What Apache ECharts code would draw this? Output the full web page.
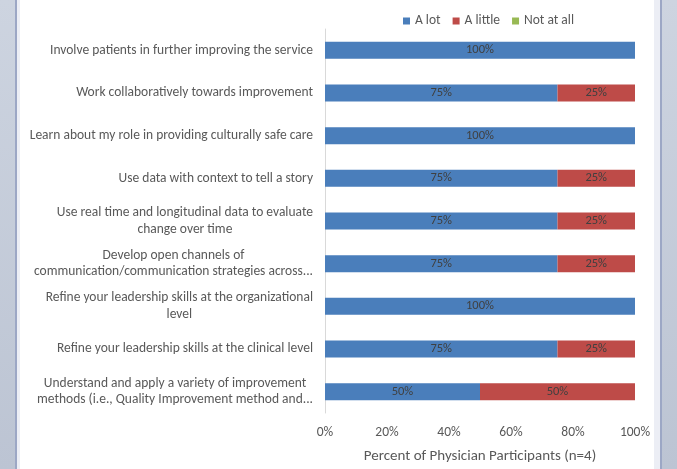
<!DOCTYPE html>
<html>
<head>
<meta charset="utf-8">
<script src="https://cdn.jsdelivr.net/npm/echarts@6/dist/echarts.min.js"></script>
<style>
  html, body { margin: 0; padding: 0; }
  body { width: 677px; height: 469px; position: relative; overflow: hidden; background: #fff; }
  .band { position: absolute; top: 0; height: 469px; }
  #chart { position: absolute; left: 0; top: 0; width: 677px; height: 469px; }
</style>
</head>
<body>
<!-- window frame around the chart -->
<div class="band" style="left:0;width:15px;background:linear-gradient(#cdd4e0,#bcc4d3);"></div>
<div class="band" style="left:15px;width:2px;background:#9ca7c5;"></div>
<div class="band" style="left:17px;width:3px;background:#eceef5;"></div>
<div class="band" style="left:654px;width:6px;background:#eceef5;"></div>
<div class="band" style="left:660px;width:2px;background:#9ca7c5;"></div>
<div class="band" style="left:662px;width:15px;background:linear-gradient(#cdd4e0,#bcc4d3);"></div>
<div id="chart"></div>
<script>
const categories = [
  'Involve patients in further improving the service',
  'Work collaboratively towards improvement',
  'Learn about my role in providing culturally safe care',
  'Use data with context to tell a story',
  'Use real time and longitudinal data to evaluate\nchange over time',
  'Develop open channels of\ncommunication/communication strategies across...',
  'Refine your leadership skills at the organizational\nlevel',
  'Refine your leadership skills at the clinical level',
  'Understand and apply a variety of improvement\nmethods (i.e., Quality Improvement method and...'
];
const aLot = [100, 75, 100, 75, 75, 75, 100, 75, 50];
const aLittle = [0, 25, 0, 25, 25, 25, 0, 25, 50];
const notAtAll = [0, 0, 0, 0, 0, 0, 0, 0, 0];

const FONT = "Carlito, 'Liberation Sans', sans-serif";
const chart = echarts.init(document.getElementById('chart'));

const seriesLabel = {
  show: true,
  position: 'inside',
  color: '#404040',
  fontSize: 12.5,
  fontFamily: FONT,
  formatter: p => (p.value ? p.value + '%' : '')
};

const option = {
  backgroundColor: 'transparent',
  animation: false,
  textStyle: { fontFamily: FONT },
  color: ['#4A7EBB', '#BE4B48', '#98B954'],
  legend: {
    data: ['A lot', 'A little', 'Not at all'],
    left: 398,
    top: 9,
    icon: 'rect',
    itemWidth: 7,
    itemHeight: 7,
    itemGap: 12,
    textStyle: { color: '#595959', fontSize: 13.5, fontFamily: FONT }
  },
  grid: { left: 325, right: 42, top: 29, bottom: 49 },
  xAxis: {
    type: 'value',
    min: 0,
    max: 100,
    interval: 20,
    axisLine: { show: false },
    axisTick: { show: false },
    splitLine: { show: false },
    axisLabel: { color: '#595959', fontSize: 13.5, margin: 13, formatter: '{value}%' },
    name: 'Percent of Physician Participants (n=4)',
    nameLocation: 'middle',
    nameGap: 36,
    nameTextStyle: { color: '#595959', fontSize: 15, fontFamily: FONT }
  },
  yAxis: {
    type: 'category',
    inverse: true,
    data: categories,
    axisLine: { show: true, lineStyle: { color: '#d9d9d9' } },
    axisTick: { show: false },
    axisLabel: {
      margin: 12,
      formatter: v => v.split('\n').map(s => '{c|' + s + '}').join('\n'),
      rich: {
        c: { align: 'center', color: '#595959', fontSize: 13.5, lineHeight: 16.5, fontFamily: FONT }
      }
    }
  },
  series: [
    { name: 'A lot', type: 'bar', stack: 'total', barWidth: '40%', label: seriesLabel, data: aLot },
    { name: 'A little', type: 'bar', stack: 'total', barWidth: '40%', label: seriesLabel, data: aLittle },
    { name: 'Not at all', type: 'bar', stack: 'total', barWidth: '40%', label: seriesLabel, data: notAtAll }
  ]
};

chart.setOption(option);
</script>
</body>
</html>
